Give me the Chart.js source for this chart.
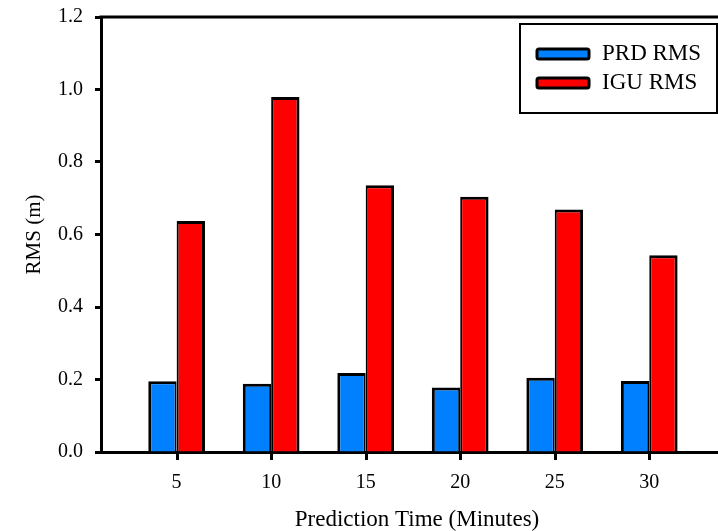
<!DOCTYPE html>
<html>
<head>
<meta charset="utf-8">
<script src="https://cdn.jsdelivr.net/npm/chart.js@4/dist/chart.umd.min.js"></script>
<style>
  html, body { margin: 0; padding: 0; background: #ffffff; overflow: hidden; width: 718px; height: 531px; }
  canvas { display: block; }
</style>
</head>
<body>
<canvas id="c" width="740" height="531"></canvas>
<script>
// ---- data ----
const categories = [5, 10, 15, 20, 25, 30];
const prdRms = [0.195, 0.188, 0.218, 0.178, 0.205, 0.196];
const iguRms = [0.637, 0.979, 0.736, 0.704, 0.669, 0.543];
const seriesLabels = ['PRD RMS', 'IGU RMS'];
const yTicks = [0.0, 0.2, 0.4, 0.6, 0.8, 1.0, 1.2];
const xAxisTitle = 'Prediction Time (Minutes)';
const yAxisTitle = 'RMS (m)';

const FONT = "'Liberation Serif', 'Times New Roman', serif";
const colors = ['#0080ff', '#ff0000'];

const framePlugin = {
  id: 'frame',
  afterDatasetsDraw(chart) {
    const { ctx, chartArea: a } = chart;
    const xs = chart.scales.x;
    ctx.save();
    ctx.strokeStyle = '#000';
    ctx.lineWidth = 3;
    ctx.beginPath();
    ctx.moveTo(a.left - 1.5, a.top);
    ctx.lineTo(a.right, a.top);
    ctx.lineTo(a.right, a.bottom);
    ctx.stroke();
    // x tick marks at the scale's ticks
    ctx.beginPath();
    xs.ticks.forEach(t => {
      const px = Math.round(xs.getPixelForValue(t.value)) + 0.5;
      ctx.moveTo(px, a.bottom);
      ctx.lineTo(px, a.bottom + 8);
    });
    ctx.stroke();
    ctx.restore();
  }
};

const legendPlugin = {
  id: 'boxLegend',
  afterDraw(chart) {
    const { ctx } = chart;
    ctx.save();
    ctx.fillStyle = '#fff';
    ctx.fillRect(520, 24, 197, 89);
    ctx.strokeStyle = '#000';
    ctx.lineWidth = 2;
    ctx.strokeRect(520, 24, 197, 89);
    chart.data.datasets.forEach((ds, i) => {
      const y = 49 + i * 29;
      ctx.beginPath();
      if (ctx.roundRect) ctx.roundRect(537, y, 52, 10, 2); else ctx.rect(537, y, 52, 10);
      ctx.fillStyle = ds.backgroundColor;
      ctx.fill();
      ctx.lineWidth = 3;
      ctx.strokeStyle = '#000';
      ctx.stroke();
      ctx.fillStyle = '#000';
      ctx.font = '23px ' + FONT;
      ctx.textBaseline = 'middle';
      ctx.textAlign = 'left';
      ctx.fillText(ds.label, 602, y + 5);
    });
    ctx.restore();
  }
};

new Chart(document.getElementById('c'), {
  type: 'bar',
  data: {
    datasets: [
      {
        label: seriesLabels[0],
        data: categories.map((c, i) => ({ x: c, y: prdRms[i] })),
        backgroundColor: colors[0],
        borderColor: '#000',
        borderWidth: { top: 3, left: 3, right: 2, bottom: 0 },
        borderSkipped: false,
        inflateAmount: 0
      },
      {
        label: seriesLabels[1],
        data: categories.map((c, i) => ({ x: c, y: iguRms[i] })),
        backgroundColor: colors[1],
        borderColor: '#000',
        borderWidth: { top: 3, left: 2, right: 3, bottom: 0 },
        borderSkipped: false,
        inflateAmount: 0
      }
    ]
  },
  options: {
    responsive: false,
    animation: false,
    devicePixelRatio: 1,
    layout: { padding: { top: 17, left: 0, right: 7, bottom: 0 } },
    datasets: { bar: { categoryPercentage: 0.6, barPercentage: 1.0 } },
    plugins: {
      legend: { display: false },
      tooltip: { enabled: false },
      title: { display: false }
    },
    scales: {
      x: {
        type: 'linear',
        min: 1,
        max: 34.43,
        offset: false,
        afterBuildTicks(scale) { scale.ticks = categories.map(v => ({ value: v })); },
        afterFit(scale) { scale.height = 79; scale.paddingLeft = 0; scale.paddingRight = 0; },
        grid: { display: false },
        border: { display: true, width: 3, color: '#000' },
        ticks: {
          color: '#000',
          font: { family: FONT, size: 20 },
          padding: 11,
          maxRotation: 0,
          callback: v => String(v)
        },
        title: {
          display: true,
          text: xAxisTitle,
          color: '#000',
          font: { family: FONT, size: 23, lineHeight: 1 },
          padding: 0
        }
      },
      y: {
        min: 0,
        max: 1.2,
        afterBuildTicks(scale) { scale.ticks = yTicks.map(v => ({ value: v })); },
        afterFit(scale) { scale.width = 101; scale.paddingTop = 0; scale.paddingBottom = 0; },
        grid: { drawOnChartArea: false, drawTicks: true, tickLength: 6, tickWidth: 3, tickColor: '#000' },
        border: { display: true, width: 3, color: '#000' },
        ticks: {
          color: '#000',
          font: { family: FONT, size: 20 },
          padding: 12,
          callback: v => Number(v).toFixed(1)
        },
        title: {
          display: true,
          text: yAxisTitle,
          color: '#000',
          font: { family: FONT, size: 21, lineHeight: 1 },
          padding: { top: 24, bottom: 0 }
        }
      }
    }
  },
  plugins: [framePlugin, legendPlugin]
});
</script>
</body>
</html>
